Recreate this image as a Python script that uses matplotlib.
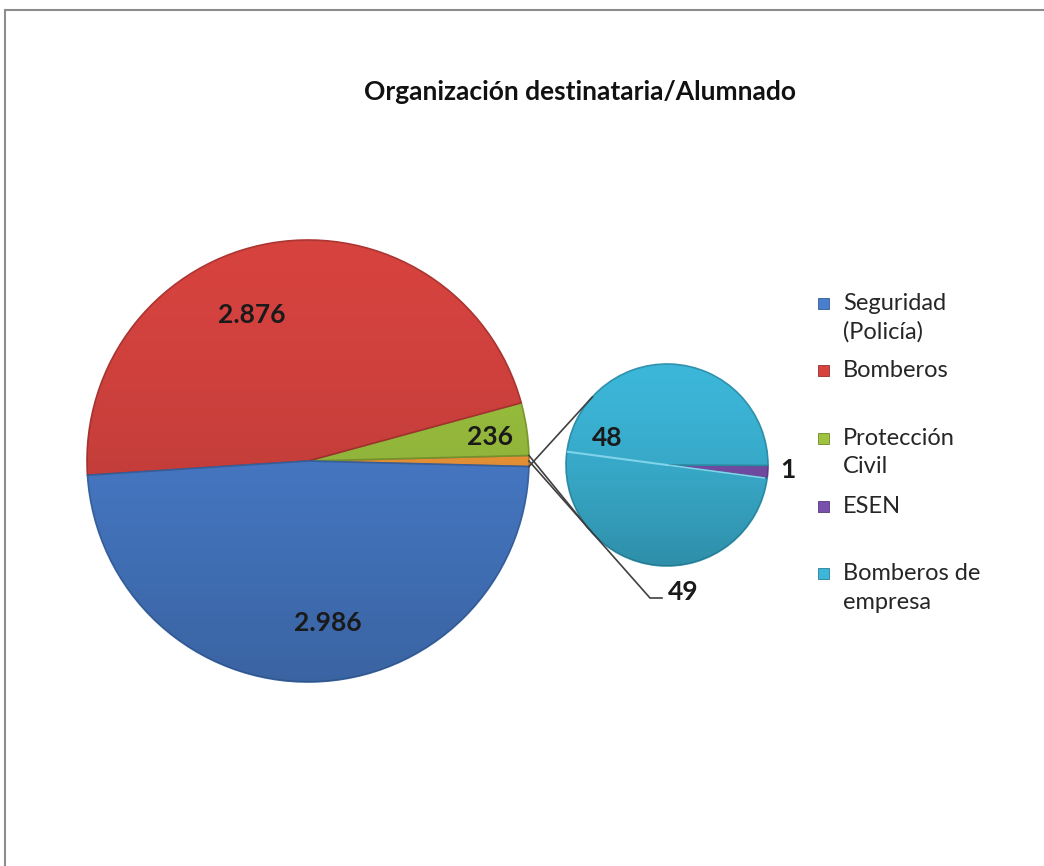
import numpy as np
import matplotlib.pyplot as plt
from matplotlib.patches import Rectangle, Circle
from matplotlib.colors import to_rgb

plt.rcParams['font.family'] = ['Lato', 'DejaVu Sans']

title = 'Organización destinataria/Alumnado'

# main pie
main_labels = ['Seguridad\n(Policía)', 'Bomberos', 'Protección\nCivil']
main_values = [2986, 2876, 236]
main_text = ['2.986', '2.876', '236']

# secondary pie (the "other" slice of the main pie)
sub_labels = ['ESEN', 'Bomberos de\nempresa']
sub_values = [1, 48]
sub_text = ['1', '48']

other_value = sum(sub_values)
other_text = '49'

c_blue = '#4a7fcf'
c_red = '#d6433f'
c_green = '#9dc33f'
c_orange = '#f59a3a'
c_purple = '#7a50ae'
c_cyan = '#3cb6d8'

W, H = 1044, 866
fig = plt.figure(figsize=(W / 100, H / 100), dpi=100)
ax = fig.add_axes([0, 0, 1, 1])


def Y(py):
    return H - py


def darker(c, f=0.75):
    return tuple(v * f for v in to_rgb(c))


# main pie: other slice centred on the right
total = sum(main_values) + other_value
mc = (308, Y(461))
mr = 221
m_vals = [other_value, main_values[2], main_values[1], main_values[0]]
m_cols = [c_orange, c_green, c_red, c_blue]
m_wedges, _ = ax.pie(m_vals, colors=m_cols, startangle=-other_value / total * 180,
                     counterclock=True, center=mc, radius=mr, frame=True,
                     wedgeprops=dict(linewidth=1.2))
for w, c in zip(m_wedges, m_cols):
    w.set_edgecolor(darker(c, 0.8))

# secondary pie
sc = (667, Y(465))
sr = 101
s_wedges, _ = ax.pie(sub_values, colors=[c_purple, c_cyan], startangle=-7.6,
                     counterclock=True, center=sc, radius=sr, frame=True,
                     wedgeprops=dict(linewidth=1.2))
for w, c in zip(s_wedges, [c_purple, c_cyan]):
    w.set_edgecolor(darker(c, 0.8))
# highlight line opposite the ESEN slice edge
a = np.deg2rad(s_wedges[0].theta1 + 180)
ax.plot([sc[0], sc[0] + sr * 0.99 * np.cos(a)], [sc[1], sc[1] + sr * 0.99 * np.sin(a)],
        color='#7fd3ea', lw=1.5, zorder=3)
a = np.deg2rad(s_wedges[0].theta1)
ax.plot([sc[0], sc[0] + sr * 0.97 * np.cos(a)], [sc[1], sc[1] + sr * 0.97 * np.sin(a)],
        color='#7fd3ea', lw=1.2, zorder=3)

# shading over both pies
grad = np.linspace(0, 1, 256).reshape(-1, 1)
shade = np.zeros((256, 1, 4))
shade[:, 0, 3] = 0.22 * grad[:, 0] ** 1.5
for cen, rad in [(mc, mr), (sc, sr)]:
    im = ax.imshow(shade, extent=[cen[0] - rad, cen[0] + rad, cen[1] - rad, cen[1] + rad],
                   origin='upper', aspect='auto', zorder=2.5)
    im.set_clip_path(Circle(cen, rad, transform=ax.transData))

# series lines: from the other slice edges, tangent to the secondary pie
ow = m_wedges[0]
for th, sign in [(ow.theta2, 1), (ow.theta1, -1)]:
    p = np.array([mc[0] + mr * np.cos(np.deg2rad(th)), mc[1] + mr * np.sin(np.deg2rad(th))])
    d = np.array(sc) - p
    dist = np.hypot(*d)
    base = np.arctan2(-d[1], -d[0])
    off = np.arccos(sr / dist)
    t = base + sign * off
    q = (sc[0] + sr * np.cos(t), sc[1] + sr * np.sin(t))
    ax.plot([p[0], q[0]], [p[1], q[1]], color='#404040', lw=1.2, zorder=4)

# leader for the other slice label
p0 = (mc[0] + mr, mc[1])
ax.plot([p0[0], 650, 662], [p0[1], Y(598), Y(598)], color='#404040', lw=1.2, zorder=1)
ax.text(668, Y(592), other_text, fontsize=19, fontweight='bold', color='#1a1a1a',
        ha='left', va='center')

# data labels
lab_pos = [(328, 623), (252, 315), (490, 437)]
for t, (x, y) in zip(main_text, lab_pos):
    ax.text(x, Y(y), t, fontsize=19, fontweight='bold', color='#1a1a1a',
            ha='center', va='center', zorder=5)
ax.text(607, Y(438), sub_text[1], fontsize=19, fontweight='bold', color='#1a1a1a',
        ha='center', va='center', zorder=5)
ax.text(788, Y(470), sub_text[0], fontsize=19, fontweight='bold', color='#1a1a1a',
        ha='center', va='center', zorder=5)

# title
ax.text(580, Y(92), title, fontsize=19, fontweight='bold', color='#111111',
        ha='center', va='center')

# legend (Excel-like, one slot of two lines per entry)
leg_labels = [main_labels[0], main_labels[1], main_labels[2], sub_labels[0], sub_labels[1]]
leg_cols = [c_blue, c_red, c_green, c_purple, c_cyan]
for i, (lab, col) in enumerate(zip(leg_labels, leg_cols)):
    y0 = 303 + i * 67.7
    ax.add_patch(Rectangle((818, Y(y0) - 5.5), 11, 11, facecolor=col,
                           edgecolor=darker(col, 0.7), lw=0.6))
    for j, line in enumerate(lab.split('\n')):
        ax.text(843, Y(y0 + j * 28.5), line, fontsize=17, color='#262626',
                ha='left', va='center')

# chart frame
ax.add_patch(Rectangle((5, Y(H + 20)), W + 20, H + 10, fill=False,
                       edgecolor='#8c8c8c', lw=1.5, zorder=0))

ax.set_xlim(0, W)
ax.set_ylim(0, H)
ax.set_aspect('auto')
ax.axis('off')

fig.savefig('out.png', dpi=100)
